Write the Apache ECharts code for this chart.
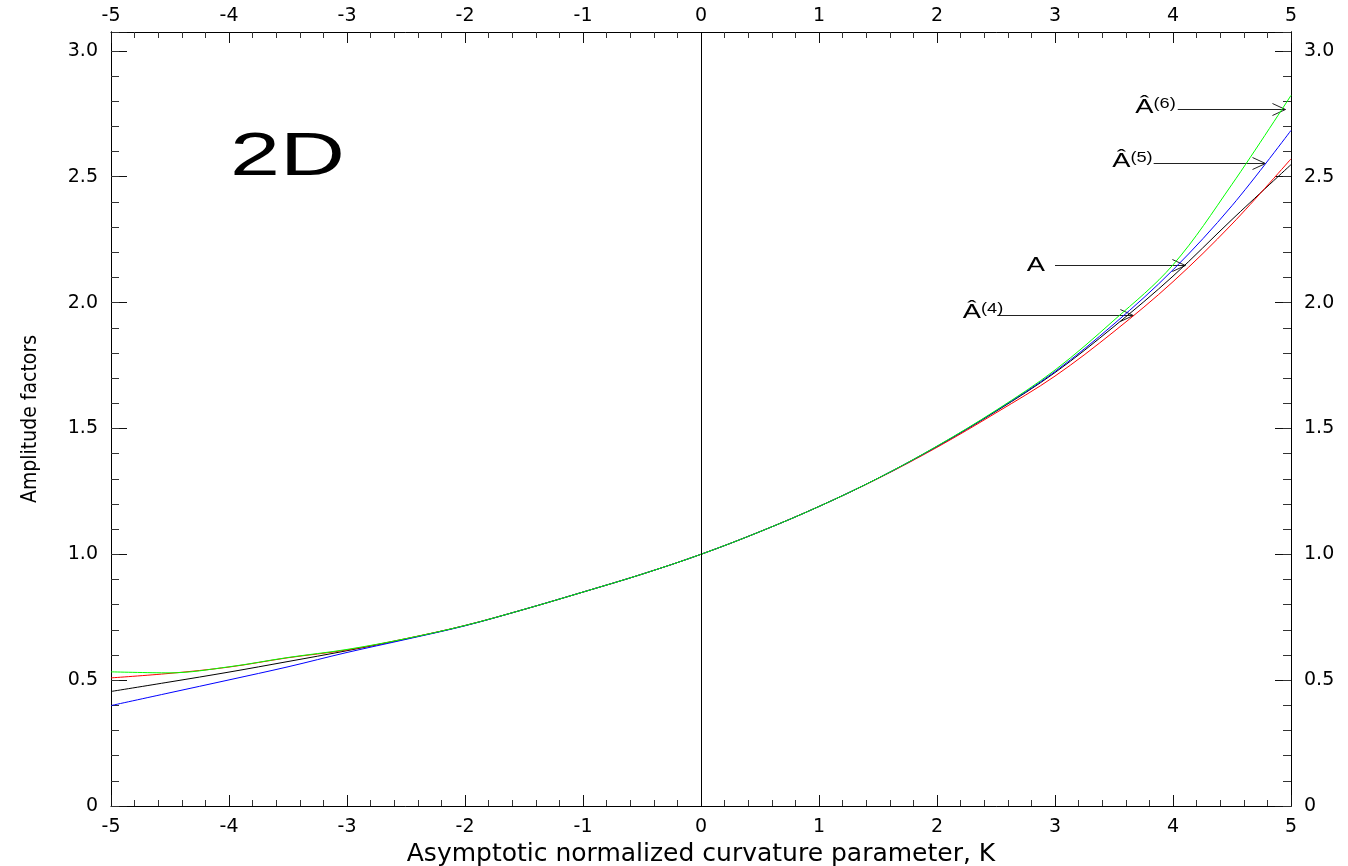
<!DOCTYPE html>
<html>
<head>
<meta charset="utf-8">
<script src="https://cdn.jsdelivr.net/npm/echarts@6/dist/echarts.min.js"></script>
<style>
html,body{margin:0;padding:0;background:#fff;}
#c{width:1348px;height:866px;}
</style>
</head>
<body>
<div id="c"></div>
<script>
// ---- data ----
const kValues = [-5,-4.5,-4,-3.5,-3,-2.5,-2,-1.5,-1,-0.5,0,0.5,1,1.5,2,2.5,3,3.5,4,4.5,5];
const seriesA  = [0.455,0.493,0.532,0.574,0.617,0.664,0.717,0.781,0.850,0.921,1.000,1.090,1.190,1.302,1.428,1.568,1.722,1.905,2.105,2.330,2.548];
const seriesA4 = [0.509,0.527,0.552,0.589,0.620,0.665,0.717,0.781,0.850,0.921,1.000,1.090,1.190,1.301,1.425,1.562,1.708,1.885,2.083,2.312,2.571];
const seriesA5 = [0.399,0.450,0.501,0.553,0.610,0.662,0.716,0.781,0.850,0.921,1.000,1.090,1.190,1.302,1.429,1.570,1.726,1.915,2.130,2.385,2.684];
const seriesA6 = [0.533,0.529,0.553,0.590,0.622,0.665,0.717,0.781,0.850,0.921,1.000,1.090,1.190,1.302,1.430,1.572,1.732,1.930,2.150,2.470,2.823];

const xTickValues = [-5,-4,-3,-2,-1,0,1,2,3,4,5];
const xTickLabels = ['-5','-4','-3','-2','-1','0','1','2','3','4','5'];
const yTickValues = [0,0.5,1.0,1.5,2.0,2.5,3.0];
const yTickLabels = ['0','0.5','1.0','1.5','2.0','2.5','3.0'];

// annotations: arrow tip (K, value) and arrow start K
const annotationTexts = ['{a|Â}{s|(6)}','{a|Â}{s|(5)}','{a|A}','{a|Â}{s|(4)}'];
const annotationTipK = [4.953, 4.784, 4.105, 3.664];
const annotationTipValue = [2.771, 2.553, 2.151, 1.949];
const annotationStartK = [4.04, 3.836, 3.0, 2.511];

// layout helpers (not data)
const labelDx = [-2, -1, -10, 6];
const labelDy = [-2, -2, 0, -3];

const yMax = 3.075;
const tickFont = "'DejaVu Sans', sans-serif";

function xFmt(v){
  for (let i=0;i<xTickValues.length;i++) if (Math.abs(v-xTickValues[i])<1e-6) return xTickLabels[i];
  return '';
}
function yFmt(v){
  for (let i=0;i<yTickValues.length;i++) if (Math.abs(v-yTickValues[i])<1e-6) return yTickLabels[i];
  return '';
}
function pairs(arr){ return kValues.map((k,i)=>[k, arr[i]]); }

const axisLineStyle = {show:true, onZero:false, lineStyle:{color:'#000', width:1}};

function xAxisDef(pos, withName){
  const a = {
    type:'value', position:pos, min:-5, max:5, interval:1,
    axisLine: axisLineStyle,
    axisTick:{show:true, inside:true, length:11, lineStyle:{color:'#111', width:1}},
    minorTick:{show:true, splitNumber:5, length:6, lineStyle:{color:'#333', width:1}},
    splitLine:{show:false}, minorSplitLine:{show:false},
    axisLabel:{show:true, margin: pos==='top'?6:12, color:'#000', fontFamily:tickFont, fontSize:19, formatter:xFmt}
  };
  if (withName){
    a.name = 'Asymptotic normalized curvature parameter, K';
    a.nameLocation = 'middle';
    a.nameGap = 33;
    a.nameTextStyle = {fontFamily:tickFont, fontSize:25, color:'#000'};
  }
  return a;
}
function yMajor(pos, withName){
  const a = {
    type:'value', position:pos, min:0, max:yMax, interval:0.5,
    axisLine: axisLineStyle,
    axisTick:{show:true, inside:true, length:16, lineStyle:{color:'#111', width:1}},
    minorTick:{show:false},
    splitLine:{show:false},
    axisLabel:{show:true, margin:13, color:'#000', fontFamily:tickFont, fontSize:19, formatter:yFmt, showMaxLabel:true}
  };
  if (withName){
    a.name = 'Amplitude factors';
    a.nameLocation = 'middle';
    a.nameGap = 70;
    a.nameTextStyle = {fontFamily:"'Liberation Sans Narrow','DejaVu Sans Condensed','Liberation Sans',sans-serif", fontSize:21, color:'#000'};
  }
  return a;
}
function yMinor(pos){
  return {
    type:'value', position:pos, min:0, max:yMax, interval:0.1,
    axisLine: axisLineStyle,
    axisTick:{show:true, inside:true, length:8, lineStyle:{color:'#333', width:1}},
    splitLine:{show:false},
    axisLabel:{show:false}
  };
}

function lineSeries(name, arr, color, extra){
  return Object.assign({
    name, type:'line', xAxisIndex:0, yAxisIndex:0,
    data: pairs(arr), showSymbol:false, symbol:'none',
    smooth:0.35,
    lineStyle:{color, width:1}, itemStyle:{color},
    silent:true, z:3
  }, extra||{});
}

const option = {
  animation:false,
  backgroundColor:'#fff',
  grid:{left:111, right:57, top:32, bottom:60, containLabel:false, outerBoundsMode:'none'},
  xAxis:[ xAxisDef('bottom', true), xAxisDef('top', false) ],
  yAxis:[ yMajor('left', true), yMinor('left'), yMajor('right', false), yMinor('right') ],
  series:[
    lineSeries('A', seriesA, '#000000', {
      markLine:{silent:true, symbol:['none','none'], label:{show:false},
        lineStyle:{color:'#000', width:1, type:'solid'},
        data:[{xAxis:0}]}
    }),
    lineSeries('A4', seriesA4, '#ff0000'),
    lineSeries('A5', seriesA5, '#0000ff'),
    lineSeries('A6', seriesA6, '#00ff00')
  ]
};

const chart = echarts.init(document.getElementById('c'), null, {renderer:'canvas'});
chart.setOption(option);

const graphics = [];
graphics.push({
  type:'text', x:230, y:127, scaleX:1.45, silent:true,
  style:{text:'2D', fontFamily:"'Liberation Sans', Arial, sans-serif", fontSize:62, fill:'#000', align:'left', verticalAlign:'top'}
});
for (let i=0;i<annotationTipK.length;i++){
  const tip = chart.convertToPixel({xAxisIndex:0, yAxisIndex:0}, [annotationTipK[i], annotationTipValue[i]]);
  const st = chart.convertToPixel({xAxisIndex:0, yAxisIndex:0}, [annotationStartK[i], annotationTipValue[i]]);
  const y = Math.round(tip[1]) + 0.5;
  graphics.push({type:'line', silent:true, shape:{x1:st[0], y1:y, x2:tip[0], y2:y}, style:{stroke:'#222', lineWidth:1}});
  graphics.push({type:'polyline', silent:true, shape:{points:[[tip[0]-13, y-6],[tip[0], y],[tip[0]-13, y+6]]}, style:{stroke:'#222', fill:null, lineWidth:1}});
  graphics.push({
    type:'text', silent:true, x: st[0] + labelDx[i], y: y + labelDy[i], scaleX:1.3,
    style:{
      text: annotationTexts[i], align:'right', verticalAlign:'middle',
      rich:{
        a:{fontFamily:"'Liberation Sans', Arial, sans-serif", fontSize:21, fill:'#000', verticalAlign:'bottom'},
        s:{fontFamily:"'Liberation Sans', Arial, sans-serif", fontSize:14, fill:'#000', verticalAlign:'top'}
      }
    }
  });
}
chart.setOption({graphic: graphics});
</script>
</body>
</html>
